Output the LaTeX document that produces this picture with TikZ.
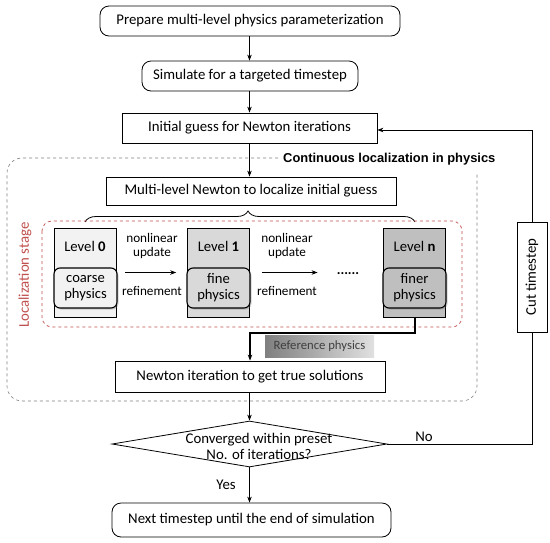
\documentclass[tikz,border=0pt]{standalone}
\usepackage{fontspec}
\setmainfont{Carlito}
\newfontfamily\arialfont{Liberation Sans}
\usetikzlibrary{arrows.meta,shapes.geometric,shadows,decorations.pathreplacing}
\definecolor{redd}{HTML}{C0504D}
\definecolor{lvA}{HTML}{F2F2F2}
\definecolor{lvB}{HTML}{D9D9D9}
\definecolor{lvC}{HTML}{BFBFBF}
\begin{document}
\begin{tikzpicture}[x=1pt,y=-1pt,
  >={Stealth[length=6pt,width=4.5pt]},
  txt/.style={font=\fontsize{14.8}{16}\selectfont},
  rbox/.style={draw,rounded corners=9pt,line width=0.8pt,inner sep=0pt,txt},
  sbox/.style={draw,line width=0.8pt,inner sep=0pt,txt},
  lvbox/.style={draw,line width=0.6pt,minimum width=62pt,minimum height=89pt,inner sep=0pt},
  inbox/.style={draw,line width=1.1pt,rounded corners=6pt,minimum width=63pt,minimum height=40pt,inner sep=0pt,
     align=center,font=\fontsize{14.6}{16}\selectfont,
     drop shadow={shadow xshift=1.5pt,shadow yshift=-1.5pt,opacity=0.3,fill=black!60}},
  lvtxt/.style={font=\fontsize{14.7}{16}\selectfont,inner sep=0pt},
  small/.style={font=\fontsize{13.2}{14}\selectfont,align=center,inner sep=0pt},
  conn/.style={->,line width=0.8pt}
]
\useasboundingbox (0,0) rectangle (550,542);
\fill[white] (0,0) rectangle (550,542);

% main boxes
\node[rbox,minimum width=300pt,minimum height=30pt] (b1) at (250,21) {Prepare multi-level physics parameterization};
\node[rbox,minimum width=216pt,minimum height=30pt] (b2) at (250,76) {Simulate for a targeted timestep};
\node[sbox,minimum width=255pt,minimum height=30pt] (b3) at (249.5,128) {Initial guess for Newton iterations};

% outer dashed frame
\draw[dashed,gray,line width=0.6pt,rounded corners=15pt] (278,158) -- (7,158) -- (7,401) -- (477,401) -- (477,172);
\node[font=\arialfont\bfseries\fontsize{12.9}{14}\selectfont,anchor=west,inner sep=0pt] (title) at (283,159.5) {Continuous localization in physics};

\node[sbox,minimum width=290pt,minimum height=28pt] (b4) at (251,191) {Multi-level Newton to localize initial guess};

% brace
\coordinate (brL) at (85,222);
\coordinate (brR) at (415,222);
\draw[line width=0.8pt,decorate,decoration={brace,amplitude=11pt,aspect=0.494}] (brL) -- (brR);

% red dashed localization box
\draw[dashed,redd,line width=0.7pt,rounded corners=10pt] (42,221) rectangle (462,327);
\node[rotate=90,text=redd,font=\fontsize{14.8}{16}\selectfont,inner sep=0pt] (locst) at (25,275) {Localization stage};

% levels
\node[lvbox,fill=lvA] (lv0) at (85,272.5) {};
\node[lvtxt] (lv0t) at (85,246) {Level \textbf{0}};
\node[inbox,fill=lvA] (in0) at (85.5,288) {coarse\\physics};

\node[lvbox,fill=lvB] (lv1) at (218.5,272.5) {};
\node[lvtxt] (lv1t) at (218.5,246) {Level \textbf{1}};
\node[inbox,fill=lvB] (in1) at (218.5,288) {fine\\physics};

\node[lvbox,fill=lvC] (lvn) at (414.5,272.5) {};
\node[lvtxt] (lvnt) at (414.5,246) {Level \textbf{n}};
\node[inbox,fill=lvC] (inn) at (414.5,288) {finer\\physics};

\node[font=\bfseries\fontsize{14}{14}\selectfont,inner sep=0pt,anchor=base] (dots) at (348,274.5) {......};

\draw[conn,shorten <=9pt,shorten >=11pt] (lv0.east) -- (lv1.west);
\draw[conn,shorten <=12pt,shorten >=0pt] (lv1.east) -- ([xshift=-19pt]dots.west |- lv1.east);
\node[small] (nl1) at (152,246) {nonlinear\\update};
\node[small] (rf1) at (152,291) {refinement};
\node[small] (nl2) at (287,246) {nonlinear\\update};
\node[small] (rf2) at (287,291) {refinement};

% newton
\node[sbox,minimum width=270pt,minimum height=31pt] (nw) at (250,376.5) {Newton iteration to get true solutions};

\coordinate (r1) at (415,333);
\coordinate (r2) at (250,333);
\draw[->,line width=1.6pt] (lvn.south -| r1) -- (r1) -- (r2) -- (nw.north);
\node[left color=black!50,right color=black!12,minimum width=109pt,minimum height=22pt,inner sep=0pt,
  text=black!75,font=\fontsize{12.7}{14}\selectfont] (refp) at (319.5,346) {Reference physics};

% diamond
\node[diamond,draw,line width=0.8pt,minimum width=275pt,minimum height=46pt,aspect=6,inner sep=0pt] (dec) at (249.5,444) {};
\node[txt,align=center,inner sep=0pt] (dect) at (259,446) {Converged within preset\\No. of iterations?};

\node[rbox,minimum width=279pt,minimum height=34pt] (fin) at (251.5,520) {Next timestep until the end of simulation};

% cut timestep
\node[sbox,rotate=90,minimum width=110pt,minimum height=30pt,fill=white] (cut) at (532,277) {Cut timestep};
\coordinate (c1) at (532,444);
\coordinate (c2) at (532,130);

% connectors
\draw[conn] (b1.south -| b3.north) -- (b2.north -| b3.north);
\draw[conn] (b2.south -| b3.north) -- (b3.north);
\draw[conn] (b3.south) -- (b4.north -| b3.south);
\draw[conn] (nw.south -| dec.north) -- (dec.north);
\draw[conn] (dec.south) -- (fin.north -| dec.south);
\draw[line width=0.8pt] (dec.east) -- (c1) -- (cut);
\draw[conn] (cut) -- (c2) -- (b3.east |- c2);
\node[txt,inner sep=0pt] (no) at (424,437) {No};
\node[txt,inner sep=0pt] (yes) at (226,485) {Yes};
\end{tikzpicture}
\end{document}
